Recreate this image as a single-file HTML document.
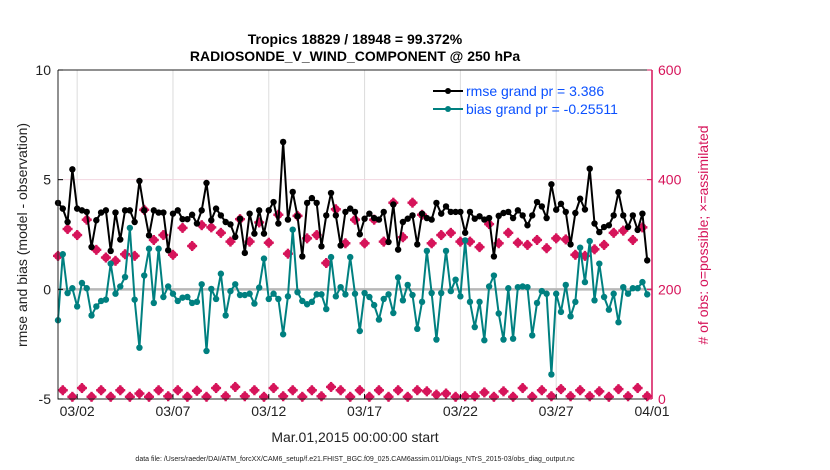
<!DOCTYPE html>
<html><head><meta charset="utf-8"><style>
body{margin:0;background:#fff;}
svg{display:block;font-family:"Liberation Sans",sans-serif;}
</style></head><body>
<svg id="chart" width="830" height="470" viewBox="0 0 830 470">
<text x="355" y="44" text-anchor="middle" font-size="14" font-weight="bold">Tropics 18829 / 18948 = 99.372%</text>
<text x="355" y="61" text-anchor="middle" font-size="14" font-weight="bold">RADIOSONDE_V_WIND_COMPONENT @ 250 hPa</text>
<g id="grid"></g>
<g id="marks"></g>
<g id="axes"></g>
<text x="355" y="442" text-anchor="middle" font-size="14" fill="#222">Mar.01,2015 00:00:00 start</text>
<text x="355" y="461" text-anchor="middle" font-size="7" fill="#222">data file: /Users/raeder/DAI/ATM_forcXX/CAM6_setup/f.e21.FHIST_BGC.f09_025.CAM6assim.011/Diags_NTrS_2015-03/obs_diag_output.nc</text>
<text transform="translate(27,235) rotate(-90)" text-anchor="middle" font-size="14" fill="#222">rmse and bias (model - observation)</text>
<text transform="translate(708,235) rotate(-90)" text-anchor="middle" font-size="14" fill="#d6145a"># of obs: o=possible; ×=assimilated</text>
<g>
<line x1="433" y1="91" x2="463" y2="91" stroke="#000" stroke-width="2"/>
<circle cx="448" cy="91" r="3" fill="#000"/>
<text x="466" y="96" font-size="14" fill="#0a50ff">rmse grand pr = 3.386</text>
<line x1="433" y1="109" x2="463" y2="109" stroke="#008080" stroke-width="2"/>
<circle cx="448" cy="109" r="3" fill="#008080"/>
<text x="466" y="114" font-size="14" fill="#0a50ff">bias grand pr = -0.25511</text>
</g>
</svg>
<script>
const rmse=[3.94,3.68,3.07,5.47,3.68,3.6,3.53,1.93,3.15,3.5,3.6,1.75,3.5,2.27,3.6,3.6,3.07,4.94,3.6,2.46,3.6,3.5,3.5,1.78,3.45,3.6,3.2,3.2,3.4,3.0,
3.6,4.85,3.15,3.68,3.37,3.07,2.96,2.39,3.22,1.66,3.45,2.54,3.6,2.54,3.6,3.98,3.0,6.72,3.18,4.44,3.33,1.5,3.94,4.16,3.94,1.96,3.37,4.39,3.37,2.0,3.53,
3.68,3.53,2.51,3.22,3.45,3.25,3.18,3.53,2.16,3.87,1.81,3.07,3.22,3.37,2.05,3.45,3.25,3.18,3.94,3.45,3.78,3.53,3.53,3.53,2.58,3.53,3.22,3.33,3.18,3.25,1.5,
3.35,3.48,3.53,3.25,3.6,3.37,2.92,3.37,3.98,3.78,3.25,4.79,3.63,3.9,3.53,2.05,3.48,4.13,3.64,5.5,3.0,2.61,2.84,2.92,3.37,4.43,3.37,2.84,3.37,2.71,3.45,1.32];
const bias=[-1.41,1.6,-0.17,0.05,-0.78,0.29,0.05,-1.19,-0.78,-0.53,-0.47,1.17,-0.2,0.13,0.56,2.8,-0.47,-2.66,0.63,1.85,-0.62,1.85,-0.35,0.13,-0.2,-0.53,-0.38,-0.35,-0.62,-0.57,
0.23,-2.81,0.02,-0.44,0.71,-1.19,-0.08,0.23,-0.26,-0.26,-0.2,-0.65,0.08,1.4,-0.44,-0.2,-0.44,-2.05,-0.32,2.72,-0.13,-0.53,-0.68,-0.57,-0.23,-0.23,-0.9,1.47,-0.32,0.1,-0.23,
1.47,-0.2,-1.9,-0.17,-0.35,-0.72,-1.38,-0.44,-0.23,-1.08,0.54,-0.5,0.2,-0.26,-1.8,-0.57,1.75,-0.17,-2.29,-0.17,1.75,-0.08,0.44,-0.32,2.23,-0.57,-1.72,-0.57,-2.32,0.13,0.63,
-1.1,-2.29,0.05,-2.25,0.1,0.13,0.1,-2.1,-0.62,-0.08,-0.2,-3.88,-0.2,-1.03,0.2,-1.23,-0.57,1.9,0.33,2.2,-0.5,1.17,-0.35,-0.93,-0.2,-1.5,0.1,-0.2,0.05,0.05,0.33,-0.23];
const obsMain=[261,310,299,327,272,258,252,264,261,345,290,299,263,312,279,317,313,303,287,328,287,322,285,336,265,334,293,299,248,346,284,
327,284,327,287,358,295,358,336,284,299,303,287,287,277,319,284,303,285,281,290,275,293,291,263,261,273,281,303,307,290,313];
const obsOff=[16,4,20,4,16,4,16,4,10,4,16,5,16,4,15,4,20,5,22,5,16,4,20,5,16,4,16,5,22,16,4,16,4,16,4,16,4,16,14,8,10,4,5,5,12,4,14,4,20,4,16,5,18,5,16,5,14,4,18,5,20,5];
const xTickDays=[1,6,11,16,21,26,31];
const xTickLabels=["03/02","03/07","03/12","03/17","03/22","03/27","04/01"];
const yTicksL=[10,5,0,-5];
const yTicksR=[600,400,200,0];

const L=58,R=652,T=70,B=399;
const NS="http://www.w3.org/2000/svg";
const xS=d=>L+(R-L)*d/31;
const yL=v=>B-(B-T)*(v+5)/15;
const yR=c=>B-(B-T)*c/600;
function mk(tag,attrs,parent){const e=document.createElementNS(NS,tag);for(const k in attrs)e.setAttribute(k,attrs[k]);parent.appendChild(e);return e;}
const grid=document.getElementById('grid'),marks=document.getElementById('marks'),axes=document.getElementById('axes');

xTickDays.forEach((d,i)=>{
  const g=mk('line',{x1:xS(d),x2:xS(d),y1:T,y2:B,stroke:'#dcdcdc','stroke-width':1},grid);
  
  
  const t=mk('line',{x1:xS(d),x2:xS(d),y1:B,y2:B-5,stroke:'#000'},axes);
  
  
  const l=mk('text',{x:xS(d),y:B+17,'text-anchor':'middle','font-size':14,fill:'#222'},axes);
  l.textContent=xTickLabels[i];
  
  
});
const hp=mk('line',{x1:L,x2:R,y1:yR(400),y2:yR(400),stroke:'#f2d6e0','stroke-width':1},grid);


const zl=mk('line',{x1:L,x2:R,y1:yL(0),y2:yL(0),stroke:'#b8b8b8','stroke-width':2.5},grid);



function obsMarker(x,y){
  const g=mk('g',{fill:'#d6145a'},marks);
  
  
  mk('circle',{cx:x,cy:y,r:4},g);
  mk('rect',{x:x-5,y:y-1.2,width:10,height:2.4},g);
  mk('rect',{x:x-1.2,y:y-5,width:2.4,height:10},g);
}
obsMain.forEach((c,k)=>obsMarker(xS(2*k*0.25),yR(c)));
obsOff.forEach((c,k)=>obsMarker(xS((2*k+1)*0.25),yR(c)));

function series(vals,color,name){
  const pts=vals.map((v,i)=>xS(i*0.25)+','+yL(v)).join(' ');
  const pl=mk('polyline',{points:pts,fill:'none',stroke:color,'stroke-width':2,'stroke-linejoin':'round'},marks);
  
  
  vals.forEach((v,i)=>{
    const c=mk('circle',{cx:xS(i*0.25),cy:yL(v),r:3.2,fill:color},marks);
    
    
  });
}
series(bias,'#008080','bias');
series(rmse,'#000000','rmse');

const ax=mk('path',{d:`M${L},${T}H${R}M${L},${T}V${B}H${R}`,fill:'none',stroke:'#222','stroke-width':1},axes);


const ra=mk('line',{x1:R,x2:R,y1:T,y2:B,stroke:'#d6145a','stroke-width':1.5},axes);


yTicksL.forEach(v=>{
  const t=mk('line',{x1:L,x2:L+5,y1:yL(v),y2:yL(v),stroke:'#000'},axes);
  
  
  const l=mk('text',{x:L-7,y:yL(v)+5,'text-anchor':'end','font-size':14,fill:'#222'},axes);
  l.textContent=v;
  
  
});
yTicksR.forEach(v=>{
  const t=mk('line',{x1:R-5,x2:R,y1:yR(v),y2:yR(v),stroke:'#d6145a'},axes);
  
  
  const l=mk('text',{x:R+6,y:yR(v)+5,'font-size':14,fill:'#d6145a'},axes);
  l.textContent=v;
  
  
});
</script>
</body></html>
